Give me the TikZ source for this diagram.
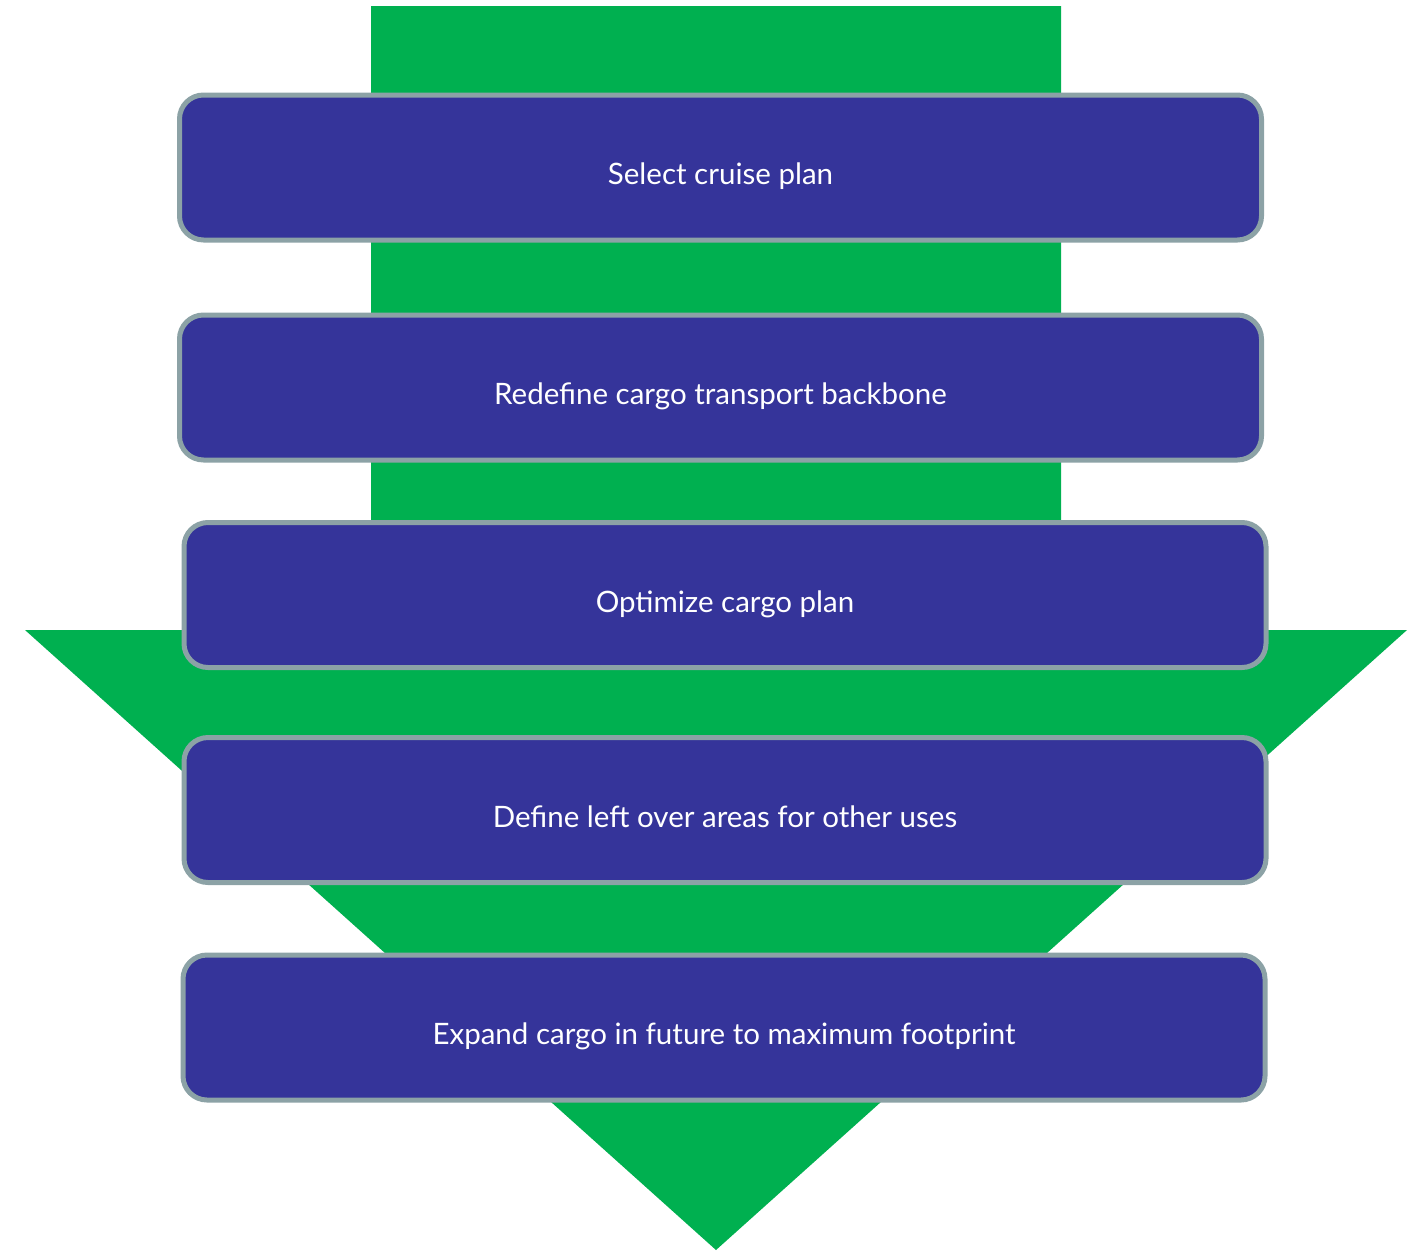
\documentclass[tikz,border=0pt]{standalone}
\usepackage{fontspec}
\setmainfont{Lato}
\usetikzlibrary{positioning}
\definecolor{arrowgreen}{HTML}{00B050}
\definecolor{stepblue}{HTML}{35349A}
\definecolor{stepedge}{HTML}{8CA2A6}
\tikzset{
  stepbox/.style={
    rectangle, rounded corners=24pt,
    fill=stepblue, draw=stepedge, line width=5pt,
    minimum width=1082pt, minimum height=145pt,
    text=white, font=\fontsize{29.5pt}{34pt}\selectfont,
    % keep the baseline a little below the middle
    text height=34pt, text depth=0pt,
    align=center
  },
  bigarrow/.style={
    fill=arrowgreen, draw=none
  }
}
\begin{document}
\begin{tikzpicture}[x=1pt, y=-1pt]
  \useasboundingbox (0,0) rectangle (1411,1251);
  % the down arrow behind the steps
  \fill[bigarrow] (371,6) -- (1061,6) -- (1061,630) -- (1407,630)
    -- (716,1250) -- (25,630) -- (371,630) -- cycle;
  % steps
  \node[stepbox] (select)   at (720.5,167.5) {Select cruise plan};
  \node[stepbox] (redefine) at (720.5,387.5) {Redefine cargo transport backbone};
  \node[stepbox] (optimize) at (725,595)     {Optimize cargo plan};
  \node[stepbox] (define)   at (725,810)     {Define left over areas for other uses};
  \node[stepbox] (expand)   at (724,1027.5)  {Expand cargo in future to maximum footprint};
\end{tikzpicture}
\end{document}
